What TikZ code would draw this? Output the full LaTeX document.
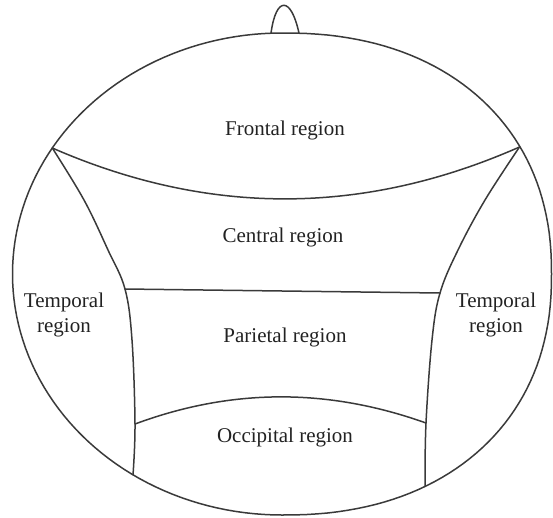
\documentclass[tikz,border=0pt]{standalone}
\usepackage{fontspec}
\setmainfont{Liberation Serif}
\definecolor{linegray}{HTML}{3A3A3A}
\definecolor{textgray}{HTML}{222222}
\begin{document}
\begin{tikzpicture}[x=1pt,y=-1pt,
  outline/.style={draw=linegray, line width=1.5pt, line join=round, line cap=round},
  lbl/.style={font=\fontsize{21}{25}\selectfont, text=textgray, inner sep=0pt, anchor=base},
  lbl2/.style={font=\fontsize{21}{25}\selectfont, text=textgray, inner sep=0pt, align=center}]
\useasboundingbox (0,0) rectangle (553,517);
% junctions
\coordinate (jL) at (52.3,148);
\coordinate (jR) at (519.5,147);
\coordinate (mL) at (125,289);
\coordinate (mR) at (440,293);
\coordinate (oL) at (135,424);
\coordinate (oR) at (426,423);
\coordinate (jBL) at (133,474.8);
\coordinate (jBR) at (425,486);
\coordinate (nL) at (271,33.2);
\coordinate (nR) at (299,33.2);
% head outline: right half slightly squarer, left half elliptic
\draw[outline] plot[domain=90:-90, samples=91, variable=\t]
    ({282+269.5*pow(abs(cos(\t))+0.000001,0.9)}, {274-241*sign(sin(\t))*pow(abs(sin(\t))+0.000001,0.9)})
  -- plot[domain=-90:-270, samples=91, variable=\t]
    ({282+269.5*cos(\t)}, {274-241*sin(\t)}) -- cycle;
% nose
\draw[outline] (nL) .. controls (276,-4) and (291,-4) .. (nR);
% frontal boundary
\draw[outline] (jL) .. controls (208,216) and (363,216) .. (jR);
% left inner boundary
\draw[outline] plot[smooth, tension=0.6] coordinates {(jL) (84,200) (108,250) (mL) (132,340) (oL) (jBL)};
% right inner boundary
\draw[outline] plot[smooth, tension=0.6] coordinates {(jR) (485,200) (458,250) (mR) (432,340) (oR) (jBR)};
% central / parietal
\draw[outline] (mL) -- (mR);
% occipital boundary
\draw[outline] (oL) .. controls (232,388) and (328,388) .. (oR);
% labels
\node[lbl] (frontal) at (285,135) {Frontal region};
\node[lbl] (central) at (283,242) {Central region};
\node[lbl] (parietal) at (285,342) {Parietal region};
\node[lbl] (occipital) at (285,442) {Occipital region};
\node[lbl2] (templ) at (64,314.5) {Temporal\\region};
\node[lbl2] (tempr) at (496,314.5) {Temporal\\region};
\end{tikzpicture}
\end{document}
